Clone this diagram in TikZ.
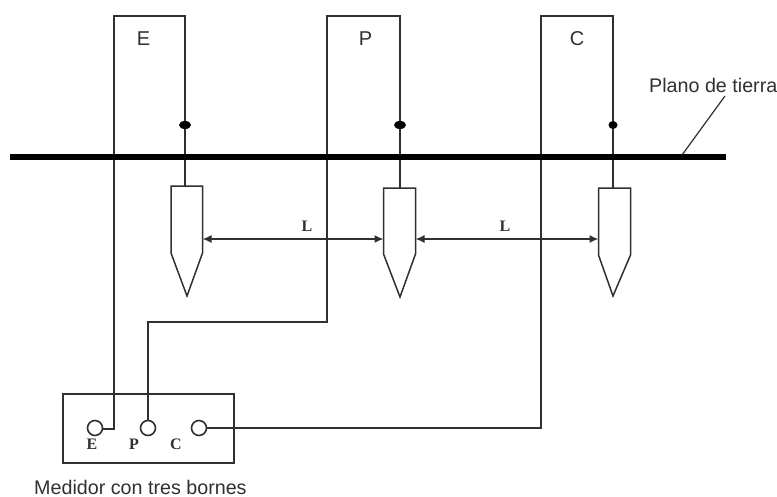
\documentclass[tikz,border=0pt]{standalone}
\usepackage{fontspec}
\setmainfont{Liberation Sans}
\newfontfamily\slabb{Liberation Serif}
\usetikzlibrary{arrows.meta,shapes.geometric}
\definecolor{ink}{HTML}{303030}
\tikzset{
  wire/.style={draw=ink,line width=1.5pt,line join=miter},
  ground/.style={draw=black,line width=6pt},
  terminal/.style={circle,draw=ink,line width=1.6pt,minimum size=15pt,inner sep=0pt},
  junction/.style={ellipse,fill=black,minimum width=12pt,minimum height=8pt,inner sep=0pt},
  rod/.style={wire,fill=white},
  span/.style={draw=ink,line width=1.5pt,{Latex[length=9pt,width=8pt]}-{Latex[length=9pt,width=8pt]}},
  lbl/.style={text=ink,inner sep=0pt,font=\fontsize{20}{22}\selectfont},
  biglbl/.style={text=ink,inner sep=0pt,font=\fontsize{19.7}{22}\selectfont},
  mono/.style={text=ink,inner sep=0pt,font=\fontsize{16}{18}\slabb\bfseries},
}
\begin{document}
\begin{tikzpicture}[x=1pt,y=-1pt]
\useasboundingbox (0,0) rectangle (777,496);
% coordinates
\coordinate (gl) at (10,156.5); \coordinate (gr) at (726,156.5);
\coordinate (etop) at (185,186); \coordinate (ptop) at (400,188); \coordinate (ctop) at (613,188);
\coordinate (eR) at (202.5,239); \coordinate (pL) at (383.5,239);
\coordinate (pR) at (415.5,239); \coordinate (cL) at (598.5,239);
\coordinate (leadA) at (725,96); \coordinate (leadB) at (682,155);
% meter
\node[draw=ink,line width=1.5pt,minimum width=171pt,minimum height=69pt,inner sep=0pt] (meter) at (148.5,428.5) {};
\node[terminal] (tE) at (95,428) {};
\node[terminal] (tP) at (148,428) {};
\node[terminal] (tC) at (199,428) {};
% wires
\draw[wire] (tE.east) ++(0,1) -| (114,16) -| (etop);
\draw[wire] (tP.north) -- (148,322) -| (327,16) -| (ptop);
\draw[wire] (tC.east) -| (541,16) -| (ctop);
% ground plane
\draw[ground] (gl) -- (gr);
\draw[draw=ink,line width=1.2pt] (leadA) -- (leadB);
% junctions
\node[junction] (jE) at (185,125) {};
\node[junction] (jP) at (400,125) {};
\node[junction,minimum width=9pt] (jC) at (613,125) {};
% rods
\draw[rod] (171,186) -- (202.5,186) -- (202.5,253) -- (187,296) -- (171,253) -- cycle;
\draw[rod] (383.5,188) -- (415.5,188) -- (415.5,254) -- (400,297) -- (383.5,254) -- cycle;
\draw[rod] (598.5,188) -- (630.5,188) -- (630.5,255) -- (613,296) -- (598.5,255) -- cycle;
% spans
\draw[span] (eR) -- (pL);
\draw[span] (pR) -- (cL);
% labels
\node[lbl] (lE) at (143.5,38.5) {E};
\node[lbl] (lP) at (365.5,38.5) {P};
\node[lbl] (lC) at (577,38.5) {C};
\node[mono] (L1) at (307,226) {L};
\node[mono] (L2) at (505,226) {L};
\node[mono] (mE) at (92,444.5) {E};
\node[mono] (mP) at (134,444) {P};
\node[mono] (mC) at (176,444) {C};
\node[biglbl,anchor=west] (plano) at (649,85) {Plano de tierra};
\node[biglbl,anchor=west] (medidor) at (34,487) {Medidor con tres bornes};
\end{tikzpicture}
\end{document}
